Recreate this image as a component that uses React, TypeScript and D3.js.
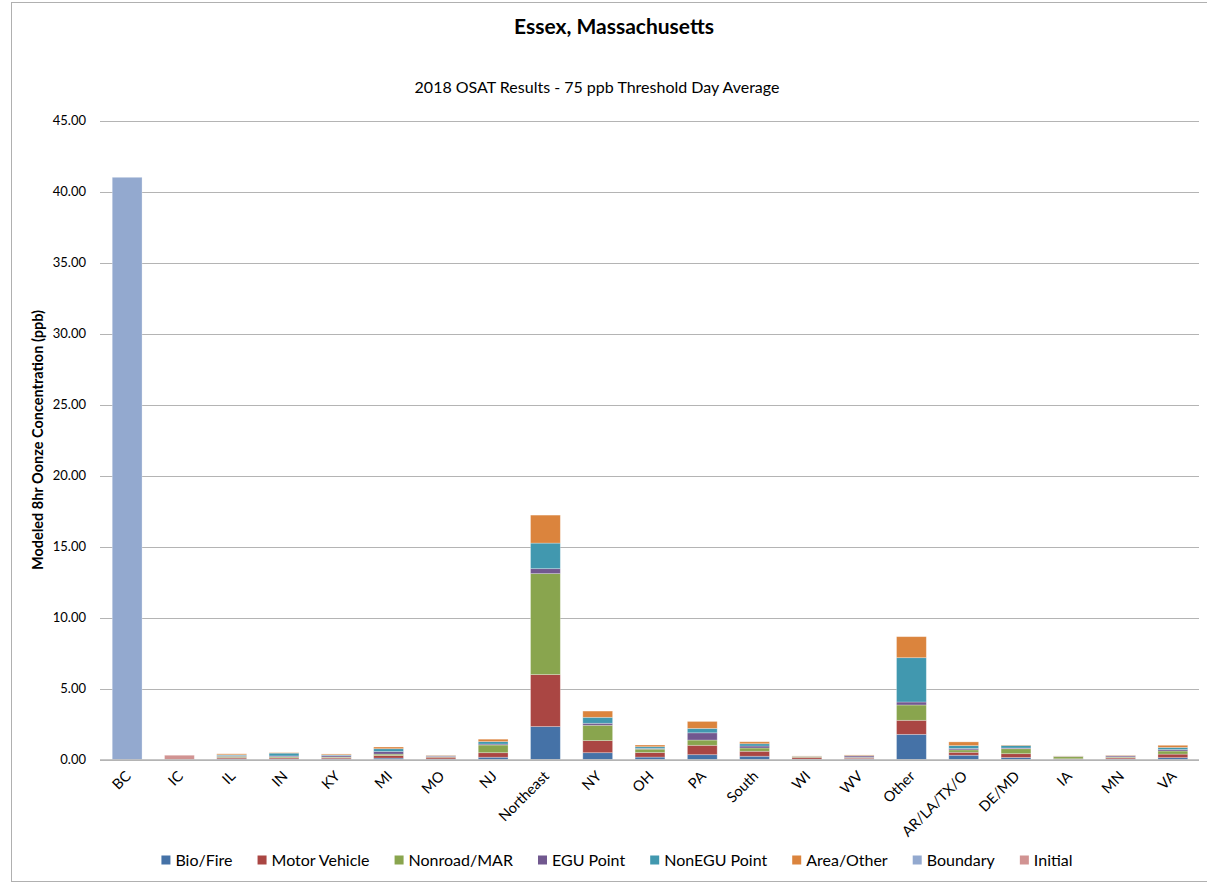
import React, { useEffect, useRef } from "react";
import * as d3 from "d3";

const categories = ["BC", "IC", "IL", "IN", "KY", "MI", "MO", "NJ", "Northeast", "NY", "OH", "PA", "South", "WI", "WV", "Other", "AR/LA/TX/O", "DE/MD", "IA", "MN", "VA"];

const bioFire = [0, 0, 0.05, 0.04, 0.05, 0.1, 0.04, 0.16, 2.32, 0.48, 0.17, 0.34, 0.23, 0.03, 0.05, 1.77, 0.3, 0.14, 0.02, 0.04, 0.13];
const motorVehicle = [0, 0, 0.09, 0.08, 0.08, 0.18, 0.12, 0.32, 3.66, 0.85, 0.32, 0.66, 0.35, 0.12, 0.06, 0.99, 0.21, 0.27, 0.03, 0.08, 0.25];
const nonroadMar = [0, 0, 0.08, 0.07, 0.05, 0.1, 0.03, 0.54, 7.11, 1.08, 0.24, 0.37, 0.23, 0.05, 0.04, 1.08, 0.17, 0.35, 0.15, 0.05, 0.22];
const eguPoint = [0, 0, 0.05, 0.06, 0.1, 0.18, 0.05, 0.07, 0.35, 0.14, 0.05, 0.51, 0.14, 0.01, 0.1, 0.21, 0.1, 0.05, 0.01, 0.08, 0.1];
const nonEguPoint = [0, 0, 0.06, 0.2, 0.05, 0.2, 0.03, 0.17, 1.8, 0.42, 0.12, 0.31, 0.16, 0.02, 0.03, 3.12, 0.2, 0.18, 0.02, 0.02, 0.15];
const areaOther = [0, 0, 0.07, 0.03, 0.06, 0.12, 0.03, 0.17, 1.97, 0.44, 0.12, 0.49, 0.14, 0.02, 0.04, 1.48, 0.26, 0.03, 0.02, 0.03, 0.15];
const boundary = [41.0, 0, 0, 0, 0, 0, 0, 0, 0, 0, 0, 0, 0, 0, 0, 0, 0, 0, 0, 0, 0];
const initial = [0, 0.3, 0, 0, 0, 0, 0, 0, 0, 0, 0, 0, 0, 0, 0, 0, 0, 0, 0, 0, 0];

const seriesNames = ["Bio/Fire", "Motor Vehicle", "Nonroad/MAR", "EGU Point", "NonEGU Point", "Area/Other", "Boundary", "Initial"];
const seriesValues = [bioFire, motorVehicle, nonroadMar, eguPoint, nonEguPoint, areaOther, boundary, initial];
const seriesColors = ["#4572A7", "#AA4643", "#89A54E", "#71588F", "#4198AF", "#DB843D", "#93A9CF", "#D19392"];

const yTicks = [0, 5, 10, 15, 20, 25, 30, 35, 40, 45];

const W = 1207;
const H = 883;
const FONT = "Lato, 'Open Sans', sans-serif";

export default function App() {
  const ref = useRef<SVGSVGElement | null>(null);

  useEffect(() => {
    const svg = d3.select(ref.current);
    svg.selectAll("*").remove();

    const left = 101, right = 1199, top = 120.5, bottom = 759.5;

    const x = d3.scaleBand<string>().domain(categories).range([left, right]).paddingInner(0.43).paddingOuter(0.215);
    const y = d3.scaleLinear().domain([0, 45]).range([bottom, top]);

    // border
    svg.append("rect").attr("x", 11.5).attr("y", 2.5).attr("width", W).attr("height", 879)
      .attr("fill", "#fff").attr("stroke", "#b0b0b0").attr("stroke-width", 1);

    // gridlines
    svg.append("g").selectAll("line").data(yTicks).join("line")
      .attr("x1", 100).attr("x2", right)
      .attr("y1", (d) => Math.round(y(d)) + 0.5).attr("y2", (d) => Math.round(y(d)) + 0.5)
      .attr("stroke", "#b4b4b4").attr("stroke-width", 1);

    // y tick labels
    svg.append("g").selectAll("text").data(yTicks).join("text")
      .attr("x", 86).attr("y", (d) => y(d)).attr("dy", "0.35em")
      .attr("text-anchor", "end").attr("font-family", FONT).attr("font-size", 13).attr("fill", "#000")
      .text((d) => d3.format(".2f")(d));

    // stacked bars
    const rows = categories.map((c, i) => {
      const o: any = { cat: c };
      seriesNames.forEach((s, k) => (o[s] = seriesValues[k][i]));
      return o;
    });
    const stacked = d3.stack<any>().keys(seriesNames)(rows);
    const g = svg.append("g");
    stacked.forEach((layer, k) => {
      g.append("g").selectAll("rect").data(layer.filter((d) => d[1] - d[0] > 0)).join("rect")
        .attr("x", (d) => x(d.data.cat)!)
        .attr("width", x.bandwidth())
        .attr("y", (d) => y(d[1]))
        .attr("height", (d) => y(d[0]) - y(d[1]))
        .attr("fill", seriesColors[k])
        .attr("stroke", "#ffffff").attr("stroke-opacity", 0.35).attr("stroke-width", 0.8);
    });

    // x axis line
    svg.append("line").attr("x1", 100).attr("x2", right).attr("y1", bottom + 0.5).attr("y2", bottom + 0.5)
      .attr("stroke", "#b4b4b4").attr("stroke-width", 1.5);

    // x labels
    svg.append("g").selectAll("text").data(categories).join("text")
      .attr("transform", (d) => `translate(${x(d)! + x.bandwidth() / 2 + 1},${bottom + 14}) rotate(-45)`)
      .attr("text-anchor", "end").attr("font-family", FONT).attr("font-size", 14.5).attr("fill", "#000")
      .attr("dy", "0.35em")
      .text((d) => d);

    // titles
    svg.append("text").attr("x", 614).attr("y", 34).attr("text-anchor", "middle")
      .attr("font-family", FONT).attr("font-weight", "bold").attr("font-size", 21).text("Essex, Massachusetts");
    svg.append("text").attr("x", 597).attr("y", 93).attr("text-anchor", "middle")
      .attr("font-family", FONT).attr("font-size", 16).text("2018 OSAT Results - 75 ppb Threshold Day Average");

    // y label
    svg.append("text").attr("transform", `translate(43,440) rotate(-90)`).attr("text-anchor", "middle")
      .attr("font-family", FONT).attr("font-weight", "bold").attr("font-size", 14.5)
      .text("Modeled 8hr Oonze Concentration (ppb)");

    // legend
    const lg = svg.append("g");
    const items = seriesNames.map((name, k) => {
      const t = lg.append("text").attr("font-family", FONT).attr("font-size", 16).attr("y", 860).attr("dy", "0.35em").text(name);
      return { t, w: (t.node() as SVGTextElement).getComputedTextLength(), k };
    });
    const sq = 9, gapSq = 5, gapItem = 25;
    const total = d3.sum(items, (it) => sq + gapSq + it.w) + gapItem * (items.length - 1);
    let cx = 617 - total / 2;
    items.forEach((it) => {
      lg.append("rect").attr("x", cx).attr("y", 860 - sq / 2).attr("width", sq).attr("height", sq).attr("fill", seriesColors[it.k]);
      it.t.attr("x", cx + sq + gapSq);
      cx += sq + gapSq + it.w + gapItem;
    });
  }, []);

  return (
    <svg ref={ref} width={W} height={H} style={{ display: "block", position: "absolute", left: 0, top: 0 }} />
  );
}
